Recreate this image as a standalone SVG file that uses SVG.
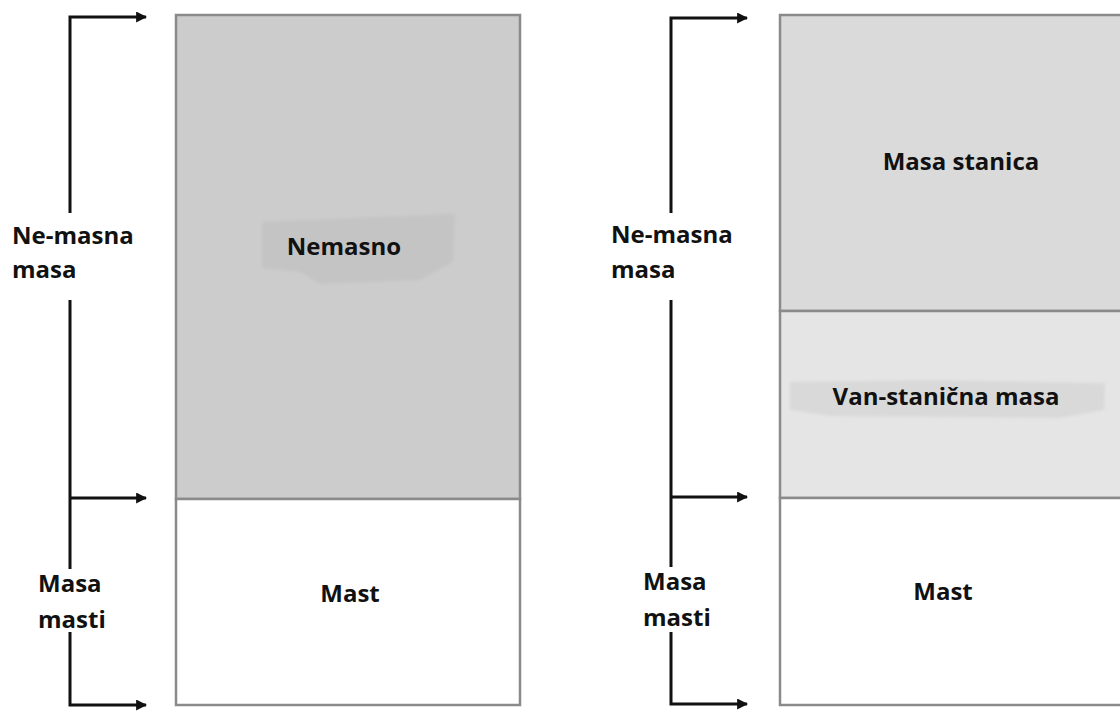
<svg xmlns="http://www.w3.org/2000/svg" width="1120" height="711" viewBox="0 0 1120 711">
<style>
.bx{stroke:#8a8a8a;stroke-width:2.5}
.ln{stroke:#111;stroke-width:3;fill:none}
.t{font-family:"Open Sans","Liberation Sans",sans-serif;font-weight:bold;font-size:24px;fill:#111}
.c{text-anchor:middle}
</style>
<defs>
<marker id="ah" viewBox="0 0 10 10" refX="9" refY="5" markerWidth="11" markerHeight="11" markerUnits="userSpaceOnUse" orient="auto">
<path d="M0,0 L10,5 L0,10 z" fill="#111"/>
</marker>
<filter id="blur"><feGaussianBlur stdDeviation="1.5"/></filter>
</defs>
<rect width="1120" height="711" fill="#fff"/>

<g id="left-bar">
<rect class="bx" x="176" y="15" width="344" height="484" fill="#cccccc"/>
<rect class="bx" x="176" y="499" width="344" height="206" fill="#ffffff"/>
<path d="M262,222 L350,218 L455,214 L453,262 L420,280 L320,284 L300,272 L262,268 z" fill="#c4c4c4" filter="url(#blur)"/>
<text class="t c" x="344" y="255">Nemasno</text>
<text class="t c" x="350" y="602">Mast</text>
</g>

<g id="right-bar">
<rect class="bx" x="780" y="15" width="345" height="296" fill="#dadada"/>
<rect class="bx" x="780" y="311" width="345" height="187" fill="#e5e5e5"/>
<rect class="bx" x="780" y="498" width="345" height="207" fill="#ffffff"/>
<path d="M790,382 L930,380 L1105,383 L1104,410 L1060,418 L830,416 L790,410 z" fill="#d9d9d9" filter="url(#blur)"/>
<text class="t c" x="961" y="170">Masa stanica</text>
<text class="t c" x="946" y="405">Van-stanična masa</text>
<text class="t c" x="943" y="600">Mast</text>
</g>

<g id="left-labels">
<text class="t" x="12" y="244">Ne-masna</text>
<text class="t" x="12" y="278">masa</text>
<text class="t" x="38" y="592">Masa</text>
<text class="t" x="38" y="628">masti</text>
</g>
<g id="right-labels">
<text class="t" x="611" y="243">Ne-masna</text>
<text class="t" x="611" y="278">masa</text>
<text class="t" x="643" y="590">Masa</text>
<text class="t" x="643" y="626">masti</text>
</g>

<g id="connectors">
<path class="ln" d="M70,213 L70,17 L146,17" marker-end="url(#ah)"/>
<path class="ln" d="M70,300 L70,569"/>
<path class="ln" d="M70,498 L146,498" marker-end="url(#ah)"/>
<path class="ln" d="M70,632 L70,705 L146,705" marker-end="url(#ah)"/>
<path class="ln" d="M671,213 L671,18 L747,18" marker-end="url(#ah)"/>
<path class="ln" d="M671,300 L671,567"/>
<path class="ln" d="M671,497 L747,497" marker-end="url(#ah)"/>
<path class="ln" d="M671,632 L671,704 L747,704" marker-end="url(#ah)"/>
</g>
</svg>
